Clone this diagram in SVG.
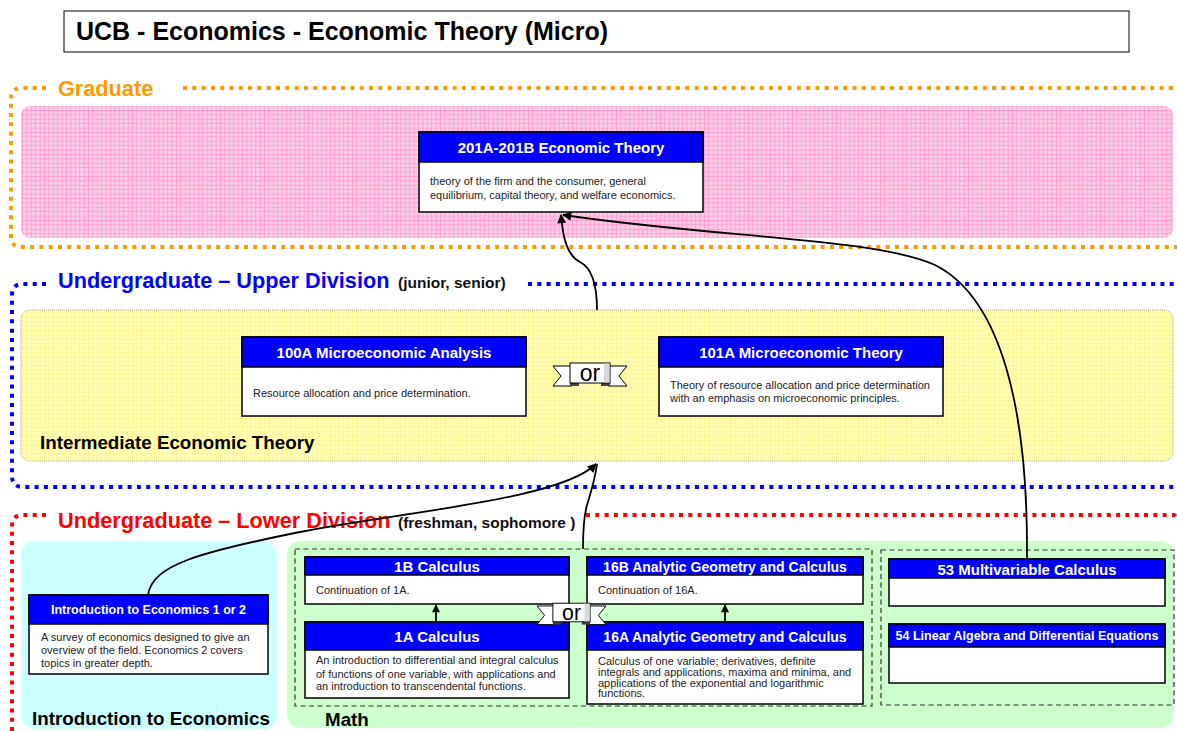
<svg xmlns="http://www.w3.org/2000/svg" width="1177" height="731" viewBox="0 0 1177 731">
  <defs>
    <pattern id="pinkGrid" width="4.4" height="4.4" patternUnits="userSpaceOnUse">
      <rect width="4.4" height="4.4" fill="#ffcde9"/>
      <path d="M0 0.5H4.4M0.5 0V4.4" stroke="#ff9ccf" stroke-width="0.9"/>
    </pattern>
    <pattern id="yellowGrid" width="4.4" height="4.4" patternUnits="userSpaceOnUse">
      <rect width="4.4" height="4.4" fill="#ffffb4"/>
      <path d="M0 0.5H4.4M0.5 0V4.4" stroke="#fff08c" stroke-width="0.7"/>
    </pattern>
    <marker id="arrow" viewBox="0 0 10 10" refX="9" refY="5" markerWidth="11" markerHeight="9" markerUnits="userSpaceOnUse" orient="auto">
      <path d="M0,0 L10,5 L0,10 z" fill="#000"/>
    </marker>
    <marker id="arrowSmall" viewBox="0 0 10 10" refX="9" refY="5" markerWidth="9" markerHeight="8" markerUnits="userSpaceOnUse" orient="auto">
      <path d="M0,0 L10,5 L0,10 z" fill="#000"/>
    </marker>
    <!-- "or" banner, centred on its origin -->
    <g id="orRibbon">
      <polygon points="-37,-7 -18,-7 -18,13 -37,13 -29,3" fill="#fff" stroke="#000" stroke-width="1"/>
      <polygon points="37,-7 18,-7 18,13 37,13 29,3" fill="#fff" stroke="#000" stroke-width="1"/>
      <rect x="-20" y="9" width="9" height="4" fill="#444"/>
      <rect x="11" y="9" width="9" height="4" fill="#444"/>
      <rect x="-20" y="-10" width="40" height="20" fill="#fff" stroke="#000" stroke-width="1"/>
      <rect x="14" y="-9.5" width="5.5" height="19" fill="#d8d8d8"/>
      <text x="0" y="8" text-anchor="middle" font-family="'Liberation Sans', Arial, sans-serif" font-size="23" fill="#000">or</text>
    </g>
  </defs>
  <style>
    text { font-family: 'Liberation Sans', Arial, Helvetica, sans-serif; }
    .frame { fill: none; stroke-width: 4; stroke-dasharray: 4 5.3; }
    .band-title { font-size: 21.7px; font-weight: bold; }
    .band-note { font-size: 15.5px; font-weight: bold; fill: #111; }
    .area-title { font-size: 18.8px; font-weight: bold; fill: #000; }
    .box { fill: #fff; stroke: #000; stroke-width: 1.5; }
    .head { fill: #0000ff; stroke: #000; stroke-width: 1.5; }
    .head-text { fill: #fff; font-weight: bold; text-anchor: middle; }
    .body { fill: #222; font-size: 11px; }
    .dash { fill: none; stroke: #333; stroke-width: 1.2; stroke-dasharray: 5 3.5; }
    .link { fill: none; stroke: #000; stroke-width: 1.8; }
  </style>

  <rect width="1177" height="731" fill="#fff"/>

  <!-- title -->
  <g id="title">
    <rect x="64" y="11" width="1065" height="41" fill="#fff" stroke="#000" stroke-width="1"/>
    <text x="76" y="40" font-size="25" font-weight="bold" fill="#000">UCB - Economics - Economic Theory (Micro)</text>
  </g>

  <!-- graduate band -->
  <g id="band-graduate">
    <rect x="21" y="106" width="1152" height="132" rx="9" fill="url(#pinkGrid)"/>
    <path class="frame" stroke="#ff9900" d="M46,88 H22 Q11,88 11,99 V236 Q11,247 22,247 H1177"/>
    <path class="frame" stroke="#ff9900" d="M183,88 H1177"/>
    <text class="band-title" x="58" y="96" fill="#ff9900">Graduate</text>
  </g>

  <!-- upper division band -->
  <g id="band-upper">
    <rect x="21" y="310" width="1152" height="151" rx="9" fill="url(#yellowGrid)" stroke="#888" stroke-width="0.8" stroke-dasharray="1 1"/>
    <path class="frame" stroke="#0000ff" d="M46,284 H23 Q12,284 12,295 V476 Q12,487 23,487 H1177"/>
    <path class="frame" stroke="#0000ff" d="M528,284 H1177"/>
    <text class="band-title" x="58" y="288" fill="#0000ff">Undergraduate – Upper Division</text>
    <text class="band-note" x="398" y="288">(junior, senior)</text>
    <text class="area-title" x="40" y="449">Intermediate Economic Theory</text>
  </g>

  <!-- lower division band -->
  <g id="band-lower">
    <path class="frame" stroke="#ff0000" d="M46,515 H23 Q12,515 12,526 V731"/>
    <path class="frame" stroke="#ff0000" d="M586,515 H1173 Q1177,515 1177,520"/>
    <text class="band-title" x="58" y="528" fill="#ff0000">Undergraduate – Lower Division</text>
    <text class="band-note" x="398" y="528">(freshman, sophomore )</text>
    <rect x="21" y="541" width="256" height="188" rx="14" fill="#ccffff"/>
    <rect x="287" y="541" width="887" height="187" rx="14" fill="#ccffcc"/>
    <rect class="dash" x="295" y="549" width="577" height="157"/>
    <rect class="dash" x="881" y="550" width="293" height="155"/>
    <text class="area-title" x="32" y="725">Introduction to Economics</text>
    <text class="area-title" x="325" y="726">Math</text>
  </g>

  <!-- connectors -->
  <g id="connectors">
    <path class="link" d="M148,595 C152,565 200,552 300,532 S560,500 596,464" marker-end="url(#arrow)"/>
    <path class="link" d="M583,549 C583,520 585,512 587,505 C590,495 595,480 597,464"/>
    <path class="link" d="M597,310 C597,285 592,268 580,262 C568,256 563,240 561,215" marker-end="url(#arrow)"/>
    <path class="link" d="M1027,559 V548 C1027,420 1005,300 935,265 C875,238 720,238 563,215" marker-end="url(#arrow)"/>
    <path class="link" d="M436,622 V605" marker-end="url(#arrowSmall)"/>
    <path class="link" d="M725,622 V605" marker-end="url(#arrowSmall)"/>
  </g>

  <!-- courses -->
  <g id="node-201">
    <rect class="box" x="419" y="132" width="284" height="80"/>
    <rect class="head" x="419" y="132" width="284" height="30"/>
    <text class="head-text" x="561" y="153" font-size="15">201A-201B Economic Theory</text>
    <text class="body" x="430" y="185">theory of the firm and the consumer, general</text>
    <text class="body" x="430" y="198.5">equilibrium, capital theory, and welfare economics.</text>
  </g>

  <g id="node-100A">
    <rect class="box" x="242" y="337" width="284" height="79"/>
    <rect class="head" x="242" y="337" width="284" height="30"/>
    <text class="head-text" x="384" y="358" font-size="15">100A Microeconomic Analysis</text>
    <text class="body" x="253" y="397">Resource allocation and price determination.</text>
  </g>

  <g id="or-upper">
    <use href="#orRibbon" transform="translate(590,373)"/>
  </g>

  <g id="node-101A">
    <rect class="box" x="659" y="337" width="284" height="79"/>
    <rect class="head" x="659" y="337" width="284" height="30"/>
    <text class="head-text" x="801" y="358" font-size="15">101A Microeconomic Theory</text>
    <text class="body" x="670" y="389">Theory of resource allocation and price determination</text>
    <text class="body" x="670" y="402">with an emphasis on microeconomic principles.</text>
  </g>

  <g id="node-intro">
    <rect class="box" x="29" y="595" width="239" height="79"/>
    <rect class="head" x="29" y="595" width="239" height="29"/>
    <text class="head-text" x="148.5" y="614" font-size="12.5">Introduction to Economics 1 or 2</text>
    <text class="body" x="41" y="641">A survey of economics designed to give an</text>
    <text class="body" x="41" y="654">overview of the field. Economics 2 covers</text>
    <text class="body" x="41" y="667">topics in greater depth.</text>
  </g>

  <g id="node-1B">
    <rect class="box" x="305" y="557" width="264" height="47"/>
    <rect class="head" x="305" y="557" width="264" height="18"/>
    <text class="head-text" x="437" y="571.5" font-size="15">1B Calculus</text>
    <text class="body" x="316" y="594">Continuation of 1A.</text>
  </g>

  <g id="node-1A">
    <rect class="box" x="305" y="622" width="264" height="76"/>
    <rect class="head" x="305" y="622" width="264" height="28"/>
    <text class="head-text" x="437" y="642" font-size="15">1A Calculus</text>
    <text class="body" x="316" y="664">An introduction to differential and integral calculus</text>
    <text class="body" x="316" y="677.5">of functions of one variable, with applications and</text>
    <text class="body" x="316" y="690">an introduction to transcendental functions.</text>
  </g>

  <g id="node-16B">
    <rect class="box" x="587" y="557" width="276" height="47"/>
    <rect class="head" x="587" y="557" width="276" height="18"/>
    <text class="head-text" x="725" y="571.5" font-size="14">16B Analytic Geometry and Calculus</text>
    <text class="body" x="598" y="594">Continuation of 16A.</text>
  </g>

  <g id="node-16A">
    <rect class="box" x="587" y="622" width="276" height="82"/>
    <rect class="head" x="587" y="622" width="276" height="28"/>
    <text class="head-text" x="725" y="642" font-size="14">16A Analytic Geometry and Calculus</text>
    <text class="body" x="598" y="665">Calculus of one variable; derivatives, definite</text>
    <text class="body" x="598" y="676">integrals and applications, maxima and minima, and</text>
    <text class="body" x="598" y="686.5">applications of the exponential and logarithmic</text>
    <text class="body" x="598" y="697">functions.</text>
  </g>

  <g id="or-math">
    <use href="#orRibbon" transform="translate(571.5,612.5) scale(0.93)"/>
  </g>

  <g id="node-53">
    <rect class="box" x="889" y="559" width="276" height="47"/>
    <rect class="head" x="889" y="559" width="276" height="19"/>
    <text class="head-text" x="1027" y="574.5" font-size="15">53 Multivariable Calculus</text>
  </g>

  <g id="node-54">
    <rect class="box" x="889" y="624" width="276" height="59"/>
    <rect class="head" x="889" y="624" width="276" height="23"/>
    <text class="head-text" x="1027" y="640" font-size="12.5">54 Linear Algebra and Differential Equations</text>
  </g>
</svg>
